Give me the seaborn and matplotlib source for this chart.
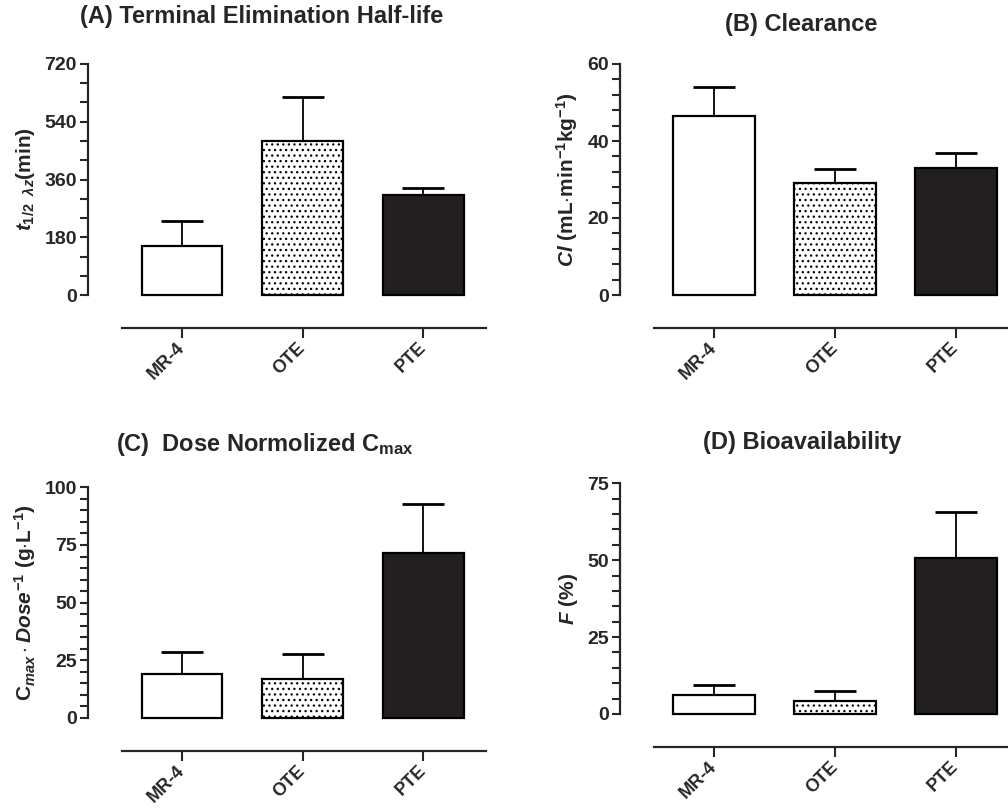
import numpy as np
import pandas as pd
import matplotlib
matplotlib.use("Agg")
import matplotlib.pyplot as plt
import seaborn as sns

groups = ["MR-4", "OTE", "PTE"]

half_life_mean = [153, 479, 313]
half_life_sd = [79, 137, 20]

clearance_mean = [46.4, 29.0, 33.1]
clearance_sd = [7.6, 3.6, 3.8]

cmax_mean = [19.1, 17.0, 71.4]
cmax_sd = [9.5, 10.7, 21.4]

bioavail_mean = [6.1, 4.1, 50.7]
bioavail_sd = [3.2, 3.4, 14.9]

sns.set_style("ticks")
plt.rcParams["font.family"] = ["Liberation Sans", "DejaVu Sans"]
plt.rcParams["font.weight"] = "bold"
plt.rcParams["axes.labelweight"] = "bold"
plt.rcParams["mathtext.fontset"] = "custom"
plt.rcParams["mathtext.rm"] = "Liberation Sans:bold"
plt.rcParams["mathtext.it"] = "Liberation Sans:italic:bold"
plt.rcParams["mathtext.bf"] = "Liberation Sans:bold"
plt.rcParams["hatch.linewidth"] = 0.9

fig = plt.figure(figsize=(10.08, 8.09), dpi=100)

W, H = 1008.0, 809.0


def px_axes(x0, y_bottom, x1, y_top):
    return fig.add_axes([x0 / W, (H - y_bottom) / H, (x1 - x0) / W, (y_bottom - y_top) / H])


panels = [
    dict(pos=(88, 295, 486, 64), mean=half_life_mean, sd=half_life_sd, ymax=720, major=180, minor=60,
         xlim=(-0.78, 2.52), ylabel=r"$t_{1/2\ \ \lambda z}$(min)",
         title="(A) Terminal Elimination Half-life", tpos=(262, 17)),
    dict(pos=(620, 295, 1008, 64), mean=clearance_mean, sd=clearance_sd, ymax=60, major=20, minor=4,
         xlim=(-0.777, 2.43), ylabel=r"$Cl$ (mL$\cdot$min$^{\mathregular{-1}}$kg$^{\mathregular{-1}}$)",
         title="(B) Clearance", tpos=(801, 25)),
    dict(pos=(88, 718, 486, 487.3), mean=cmax_mean, sd=cmax_sd, ymax=100, major=25, minor=5,
         xlim=(-0.78, 2.52), ylabel=r"$\mathregular{C}_{max}\cdot Dose^{-1}$ (g$\cdot$L$^{\mathregular{-1}}$)",
         title=r"(C)  Dose Normolized C$_{\mathregular{max}}$", tpos=(265, 445)),
    dict(pos=(620, 714, 1008, 483.3), mean=bioavail_mean, sd=bioavail_sd, ymax=75, major=25, minor=5,
         xlim=(-0.777, 2.43), ylabel=r"$F$ (%)",
         title="(D) Bioavailability", tpos=(802, 443)),
]

palette = {"MR-4": "white", "OTE": "white", "PTE": "#231f20"}

for p in panels:
    ax = px_axes(*p["pos"])
    df = pd.DataFrame({"group": groups, "value": p["mean"]})
    sns.barplot(data=df, x="group", y="value", hue="group", palette=palette, ax=ax,
                width=0.67, edgecolor="black", linewidth=1.6, legend=False,
                errorbar=None, saturation=1)
    for i, cont in enumerate(ax.containers):
        for bar in cont:
            bar.set_clip_on(False)
            if groups[i] == "OTE":
                bar.set_hatch("...")
    ax.errorbar(np.arange(len(groups)), p["mean"], yerr=[np.zeros(len(groups)), p["sd"]],
                fmt="none", ecolor="black", elinewidth=1.3, capsize=15, capthick=2.0,
                zorder=0.5, clip_on=False)
    for s in ["top", "right"]:
        ax.spines[s].set_visible(False)
    ax.spines["left"].set_linewidth(1.6)
    ax.spines["bottom"].set_linewidth(1.6)
    ax.spines["bottom"].set_position(("outward", 24))
    ax.set_ylim(0, p["ymax"])
    ax.set_xlim(*p["xlim"])
    ax.spines["left"].set_bounds(0, p["ymax"])
    ax.spines["bottom"].set_bounds(-0.5, p["xlim"][1])
    ax.tick_params(axis="y", which="both", length=6, width=1.5, labelsize=14, pad=2)
    ax.tick_params(axis="x", length=7, width=1.5, pad=5, labelrotation=45, labelsize=13)
    ax.set_yticks(np.arange(0, p["ymax"] + 0.1, p["major"]))
    ax.set_yticks(np.arange(0, p["ymax"] + 0.1, p["minor"]), minor=True)
    ax.set_xticks(range(len(groups)))
    ax.set_xticklabels(groups)
    for lab in ax.get_xticklabels():
        lab.set_rotation(45)
        lab.set_ha("right")
        lab.set_va("center")
        lab.set_rotation_mode("anchor")
        lab.set_fontweight("bold")
    ax.set_xlabel("")
    ax.set_ylabel(p["ylabel"], fontsize=15, fontweight="bold", labelpad=5)
    fig.text(p["tpos"][0] / W, 1 - p["tpos"][1] / H, p["title"], ha="center", va="center",
             fontsize=17, fontweight="bold")

fig.savefig("out.png", dpi=100)
